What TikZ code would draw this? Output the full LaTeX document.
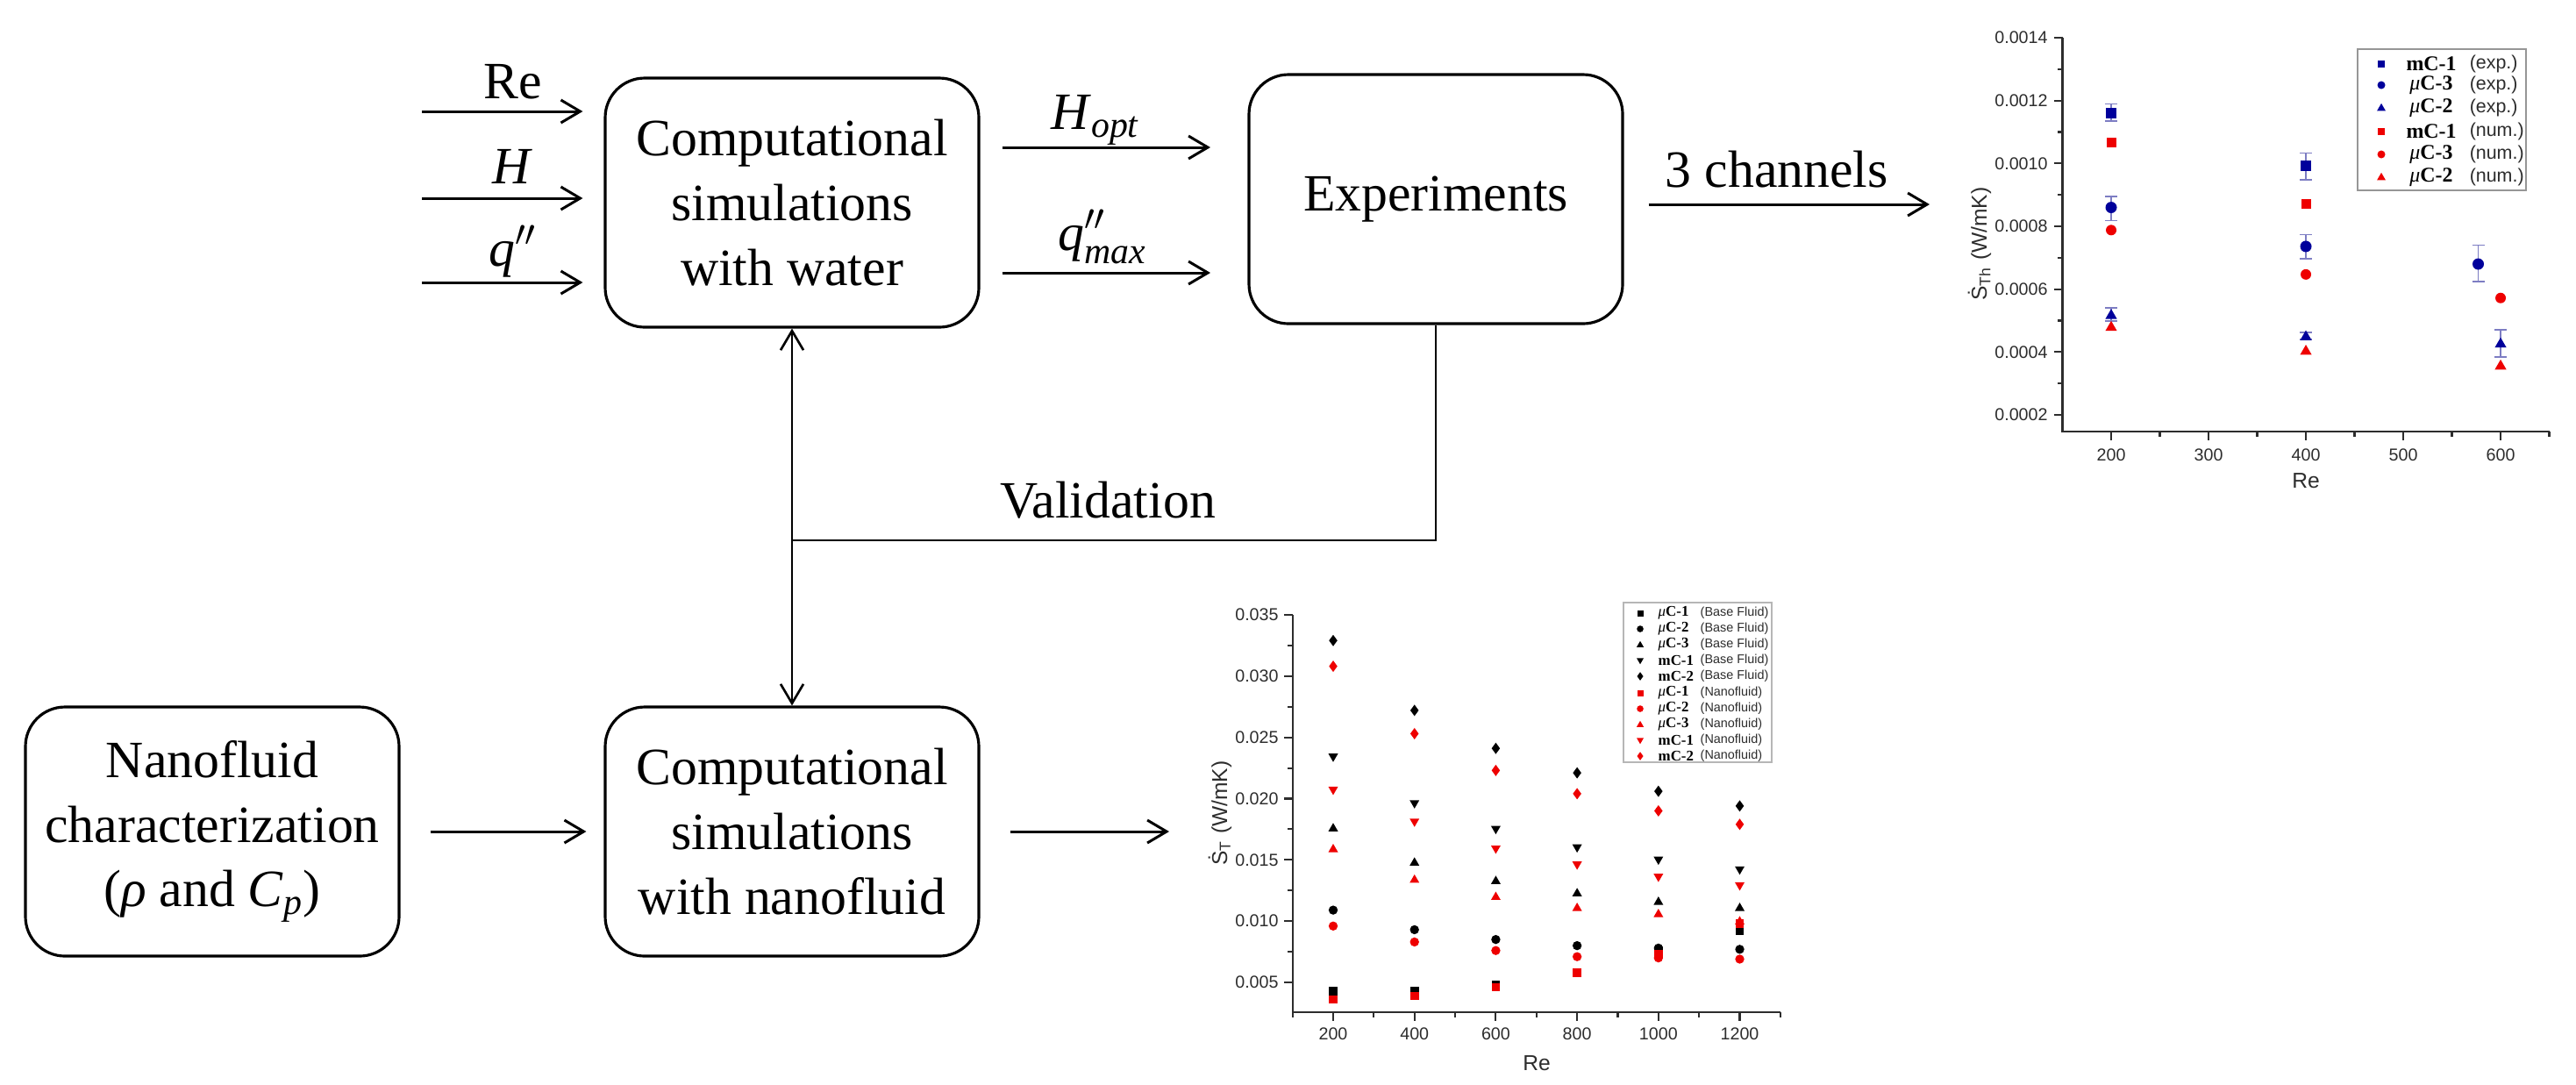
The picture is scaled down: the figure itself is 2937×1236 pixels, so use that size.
\documentclass[tikz,border=0pt]{standalone}
\usepackage{amsmath}
\usepackage{fontspec}
\setmainfont{Liberation Serif}
\setsansfont{Liberation Sans}
\usetikzlibrary{arrows.meta}

\definecolor{pblue}{RGB}{0,0,155}
\definecolor{pred}{RGB}{238,0,0}
\definecolor{ebc}{RGB}{125,125,195}
\definecolor{axc}{RGB}{45,45,45}
\definecolor{lgb}{RGB}{150,150,150}

\newcommand\pA[2]{({2407+(#1-200)*1.11},{473-(#2-2)*35.83})}
\newcommand\pB[2]{({1520+(#1-200)*0.4635},{1120-(#2-5)*13.97})}
\newcommand\mkSq[3]{\fill[#1] #2 ++(-#3,-#3) rectangle ++(2*#3,2*#3);}
\newcommand\mkCi[3]{\fill[#1] #2 circle[radius=#3];}
\newcommand\mkTu[3]{\fill[#1] #2 ++(0,1.15*#3) -- ++(-1.1*#3,-1.9*#3) -- ++(2.2*#3,0) -- cycle;}
\newcommand\mkTd[3]{\fill[#1] #2 ++(0,-1.15*#3) -- ++(-1.1*#3,1.9*#3) -- ++(2.2*#3,0) -- cycle;}
\newcommand\mkDi[3]{\fill[#1] #2 ++(0,1.3*#3) -- ++(0.95*#3,-1.3*#3) -- ++(-0.95*#3,-1.3*#3) -- ++(-0.95*#3,1.3*#3) -- cycle;}
\newcommand\ebA[3]{\draw[ebar] \pA{#1}{#2} -- \pA{#1}{#3};
  \draw[ebar] \pA{#1}{#2} ++(-0.7mm,0) -- ++(1.4mm,0);
  \draw[ebar] \pA{#1}{#3} ++(-0.7mm,0) -- ++(1.4mm,0);}
\newcommand\muC[1]{{\mdseries\itshape μ}\textbf{C-#1}}
\newcommand\mmC[1]{\textbf{mC-#1}}

\begin{document}
\begin{tikzpicture}[x=0.1mm,y=-0.1mm,
  arr/.style={line width=0.85pt,-{Straight Barb[length=2.2mm,width=2.6mm]}},
  darr/.style={line width=0.75pt,{Straight Barb[length=2.2mm,width=2.6mm]}-{Straight Barb[length=2.2mm,width=2.6mm]}},
  vline/.style={line width=0.75pt},
  bx/.style={draw, line width=0.9pt, rounded corners=4.5mm, minimum width=42.6mm,
    minimum height=28.4mm, align=center, inner sep=0pt, font=\fontsize{17}{21}\selectfont},
  lab/.style={font=\fontsize{17}{21}\selectfont, inner sep=0pt},
  tk/.style={font=\sffamily\fontsize{5.6}{6.5}\selectfont, inner sep=0.5pt, text=axc},
  axl/.style={font=\sffamily\fontsize{7}{8}\selectfont, inner sep=0pt, text=axc},
  axln/.style={draw=axc, line width=0.6pt},
  ebar/.style={draw=ebc, line width=0.45pt},
  lgn1/.style={font=\rmfamily\fontsize{6.8}{7.5}\selectfont, inner sep=0pt},
  lgs1/.style={font=\sffamily\fontsize{6.1}{7}\selectfont, inner sep=0pt, text=axc},
  lgn2/.style={font=\rmfamily\fontsize{4.8}{5.5}\selectfont, inner sep=0pt},
  lgs2/.style={font=\sffamily\fontsize{4.1}{5}\selectfont, inner sep=0pt, text=axc},
]
\fill[white] (0,0) rectangle (2937,1236);
\useasboundingbox (0,0) rectangle (2937,1236);

% ---------------- flow chart ----------------
\node[bx] (sw) at (903,231) {Computational\\simulations\\with water};
\node[bx] (ex) at (1637,227) {Experiments};
\node[bx] (nc) at (242,948) {Nanofluid\\characterization\\(\textit{ρ} and \textit{C}$_{\textit{p}}$)};
\node[bx] (sn) at (903,948) {Computational\\simulations\\with nanofluid};

% inputs
\coordinate (iRe) at (481,127);
\coordinate (iH) at (481,226);
\coordinate (iQ) at (481,322);
\draw[arr, shorten >=2.4mm] (iRe) -- (iRe -| sw.west)
  node[lab, pos=0.5, anchor=base, yshift=1.5mm] (lRe) {Re};
\draw[arr, shorten >=2.4mm] (iH) -- (iH -| sw.west)
  node[lab, pos=0.5, anchor=base, yshift=1.7mm] (lH) {\textit{H}};
\draw[arr, shorten >=2.4mm] (iQ) -- (iQ -| sw.west)
  node[lab, pos=0.5, anchor=base, yshift=1.9mm] (lQ) {\textit{q}$^{\prime\prime}$};

% outputs
\coordinate (oH) at (1380,168);
\coordinate (oQ) at (1380,311);
\draw[arr, shorten <=2.5mm] (oH -| sw.east) -- (oH)
  node[lab, pos=0.5, anchor=base, yshift=2.1mm] (lHo) {\textit{H}$_{\textit{opt}}$};
\draw[arr, shorten <=2.5mm] (oQ -| sw.east) -- (oQ)
  node[lab, pos=0.5, anchor=base, yshift=2.6mm, xshift=0.8mm] (lQm) {\textit{q}$^{\prime\prime}_{\textit{max}}$};

% 3 channels
\coordinate (p1in) at (2200,233);
\draw[arr, shorten <=2.8mm] (ex.east |- p1in) -- (p1in)
  node[lab, pos=0.5, anchor=base, yshift=2.0mm] (l3c) {3 channels};

% validation
\coordinate (vj) at (903,616);
\draw[vline] (ex.south) |- (vj);
\draw[darr] (sw.south) -- (sn.north);
\node[lab] (val) at (1263,570) {Validation};

% nanofluid arrows
\draw[arr, shorten <=3.4mm, shorten >=2mm] (nc) -- (sn);
\coordinate (p2in) at (1333,948);
\draw[arr, shorten <=3.4mm] (sn.east) -- (p2in);

% ---------------- plot 1 ----------------
\draw[axln] \pA{150}{14} -- \pA{150}{1.47} -- \pA{650}{1.47};
\foreach \v in {2,4,...,14} {\draw[axln] \pA{150}{\v} -- ++(-1mm,0);}
\foreach \v in {3,5,...,13} {\draw[axln] \pA{150}{\v} -- ++(-0.6mm,0);}
\foreach \r in {200,300,...,600} {\draw[axln] \pA{\r}{1.47} -- ++(0,-1mm);}
\foreach \r in {250,350,...,650} {\draw[axln] \pA{\r}{1.47} -- ++(0,-0.6mm);}
\foreach \v/\t in {2/0.0002,4/0.0004,6/0.0006,8/0.0008,10/0.0010,12/0.0012,14/0.0014}
  {\node[tk, anchor=east] (ya\v) at (2337,{473-(\v-2)*35.83}) {\t};}
\foreach \r in {200,300,...,600}
  {\node[tk, anchor=north] (xa\r) at ({2407+(\r-200)*1.11},509) {\r};}
\node[axl] (rea) at (2629,548) {Re};
\node[axl, rotate=90] (yla) at (2257,278) {\.{S}\textsubscript{Th} (W/mK)};

\ebA{200}{11.35}{11.9}
\ebA{400}{9.48}{10.33}
\ebA{200}{8.18}{8.95}
\ebA{400}{6.97}{7.74}
\ebA{577}{6.25}{7.4}
\ebA{200}{4.98}{5.4}
\ebA{400}{4.4}{4.62}
\ebA{600}{3.85}{4.7}

\mkSq{pblue}{\pA{200}{11.6}}{0.6mm}
\mkSq{pblue}{\pA{400}{9.94}}{0.6mm}
\mkCi{pblue}{\pA{200}{8.6}}{0.65mm}
\mkCi{pblue}{\pA{400}{7.36}}{0.65mm}
\mkCi{pblue}{\pA{577}{6.8}}{0.65mm}
\mkTu{pblue}{\pA{200}{5.18}}{0.6mm}
\mkTu{pblue}{\pA{400}{4.5}}{0.6mm}
\mkTu{pblue}{\pA{600}{4.27}}{0.6mm}
\mkSq{pred}{\pA{200}{10.66}}{0.55mm}
\mkSq{pred}{\pA{400}{8.71}}{0.55mm}
\mkCi{pred}{\pA{200}{7.88}}{0.6mm}
\mkCi{pred}{\pA{400}{6.47}}{0.6mm}
\mkCi{pred}{\pA{600}{5.72}}{0.6mm}
\mkTu{pred}{\pA{200}{4.8}}{0.6mm}
\mkTu{pred}{\pA{400}{4.04}}{0.6mm}
\mkTu{pred}{\pA{600}{3.57}}{0.6mm}

% legend 1
\draw[lgb, line width=0.5pt] (2688,56) rectangle (2880,217);
\mkSq{pblue}{(2715,73)}{0.42mm}
\mkCi{pblue}{(2715,97)}{0.45mm}
\mkTu{pblue}{(2715,123)}{0.45mm}
\mkSq{pred}{(2715,150)}{0.42mm}
\mkCi{pred}{(2715,176)}{0.45mm}
\mkTu{pred}{(2715,202)}{0.45mm}
\node[lgn1] (n11) at (2772,73) {\mmC{1}};
\node[lgn1] (n12) at (2772,97) {\muC{3}};
\node[lgn1] (n13) at (2772,123) {\muC{2}};
\node[lgn1] (n14) at (2772,150) {\mmC{1}};
\node[lgn1] (n15) at (2772,176) {\muC{3}};
\node[lgn1] (n16) at (2772,202) {\muC{2}};
\node[lgs1, anchor=west] (s11) at (2815,73) {(exp.)};
\node[lgs1, anchor=west] (s12) at (2815,97) {(exp.)};
\node[lgs1, anchor=west] (s13) at (2815,123) {(exp.)};
\node[lgs1, anchor=west] (s14) at (2815,150) {(num.)};
\node[lgs1, anchor=west] (s15) at (2815,176) {(num.)};
\node[lgs1, anchor=west] (s16) at (2815,202) {(num.)};

% ---------------- plot 2 ----------------
\draw[axln] \pB{100}{35} -- \pB{100}{2.55} -- \pB{1300}{2.55};
\foreach \v in {5,10,...,35} {\draw[axln] \pB{100}{\v} -- ++(-1mm,0);}
\foreach \v in {7.5,12.5,...,32.5} {\draw[axln] \pB{100}{\v} -- ++(-0.6mm,0);}
\foreach \r in {200,400,...,1200} {\draw[axln] \pB{\r}{2.55} -- ++(0,-1mm);}
\foreach \r in {100,300,...,1300} {\draw[axln] \pB{\r}{2.55} -- ++(0,-0.6mm);}
\foreach \v/\t in {5/0.005,10/0.010,15/0.015,20/0.020,25/0.025,30/0.030,35/0.035}
  {\node[tk, anchor=east] (yb\v) at (1460,{1120-(\v-5)*13.97}) {\t};}
\foreach \r in {200,400,...,1200}
  {\node[tk, anchor=north] (xb\r) at ({1520+(\r-200)*0.4635},1169) {\r};}
\node[axl] (reb) at (1752,1212) {Re};
\node[axl, rotate=90] (ylb) at (1391,927) {\.{S}\textsubscript{T} (W/mK)};

% base fluid (black)
\foreach \r/\a in {200/4.3,400/4.3,600/4.8,800/5.8,1000/7.6,1200/9.2} {\mkSq{black}{\pB{\r}{\a}}{0.48mm}}
\foreach \r/\a in {200/10.9,400/9.3,600/8.5,800/8.0,1000/7.8,1200/7.7} {\mkCi{black}{\pB{\r}{\a}}{0.52mm}}
\foreach \r/\a in {200/17.6,400/14.8,600/13.3,800/12.3,1000/11.6,1200/11.1} {\mkTu{black}{\pB{\r}{\a}}{0.5mm}}
\foreach \r/\a in {200/23.4,400/19.6,600/17.5,800/16.0,1000/15.0,1200/14.2} {\mkTd{black}{\pB{\r}{\a}}{0.5mm}}
\foreach \r/\a in {200/32.9,400/27.2,600/24.1,800/22.1,1000/20.6,1200/19.4} {\mkDi{black}{\pB{\r}{\a}}{0.5mm}}
% nanofluid (red)
\foreach \r/\a in {200/3.6,400/3.9,600/4.6,800/5.8,1000/7.3,1200/9.8} {\mkSq{pred}{\pB{\r}{\a}}{0.48mm}}
\foreach \r/\a in {200/9.6,400/8.3,600/7.6,800/7.1,1000/7.0,1200/6.9} {\mkCi{pred}{\pB{\r}{\a}}{0.52mm}}
\foreach \r/\a in {200/15.9,400/13.4,600/12.0,800/11.1,1000/10.6,1200/10.0} {\mkTu{pred}{\pB{\r}{\a}}{0.5mm}}
\foreach \r/\a in {200/20.7,400/18.1,600/15.9,800/14.6,1000/13.6,1200/12.9} {\mkTd{pred}{\pB{\r}{\a}}{0.5mm}}
\foreach \r/\a in {200/30.8,400/25.3,600/22.3,800/20.4,1000/19.0,1200/17.9} {\mkDi{pred}{\pB{\r}{\a}}{0.5mm}}

% legend 2
\draw[lgb!70, line width=0.5pt] (1851,687) rectangle (2020,869);
\mkSq{black}{(1870,699)}{0.35mm}
\mkCi{black}{(1870,717)}{0.38mm}
\mkTu{black}{(1870,735)}{0.37mm}
\mkTd{black}{(1870,753)}{0.37mm}
\mkDi{black}{(1870,771)}{0.37mm}
\mkSq{pred}{(1870,790)}{0.35mm}
\mkCi{pred}{(1870,808)}{0.38mm}
\mkTu{pred}{(1870,826)}{0.37mm}
\mkTd{pred}{(1870,844)}{0.37mm}
\mkDi{pred}{(1870,862)}{0.37mm}
\node[lgn2, anchor=west] (n21) at (1890,699) {\muC{1}};
\node[lgn2, anchor=west] (n22) at (1890,717) {\muC{2}};
\node[lgn2, anchor=west] (n23) at (1890,735) {\muC{3}};
\node[lgn2, anchor=west] (n24) at (1890,753) {\mmC{1}};
\node[lgn2, anchor=west] (n25) at (1890,771) {\mmC{2}};
\node[lgn2, anchor=west] (n26) at (1890,790) {\muC{1}};
\node[lgn2, anchor=west] (n27) at (1890,808) {\muC{2}};
\node[lgn2, anchor=west] (n28) at (1890,826) {\muC{3}};
\node[lgn2, anchor=west] (n29) at (1890,844) {\mmC{1}};
\node[lgn2, anchor=west] (n30) at (1890,862) {\mmC{2}};
\node[lgs2, anchor=west] (s21) at (1938,699) {(Base Fluid)};
\node[lgs2, anchor=west] (s22) at (1938,717) {(Base Fluid)};
\node[lgs2, anchor=west] (s23) at (1938,735) {(Base Fluid)};
\node[lgs2, anchor=west] (s24) at (1938,753) {(Base Fluid)};
\node[lgs2, anchor=west] (s25) at (1938,771) {(Base Fluid)};
\node[lgs2, anchor=west] (s26) at (1938,790) {(Nanofluid)};
\node[lgs2, anchor=west] (s27) at (1938,808) {(Nanofluid)};
\node[lgs2, anchor=west] (s28) at (1938,826) {(Nanofluid)};
\node[lgs2, anchor=west] (s29) at (1938,844) {(Nanofluid)};
\node[lgs2, anchor=west] (s30) at (1938,862) {(Nanofluid)};
\end{tikzpicture}
\end{document}
